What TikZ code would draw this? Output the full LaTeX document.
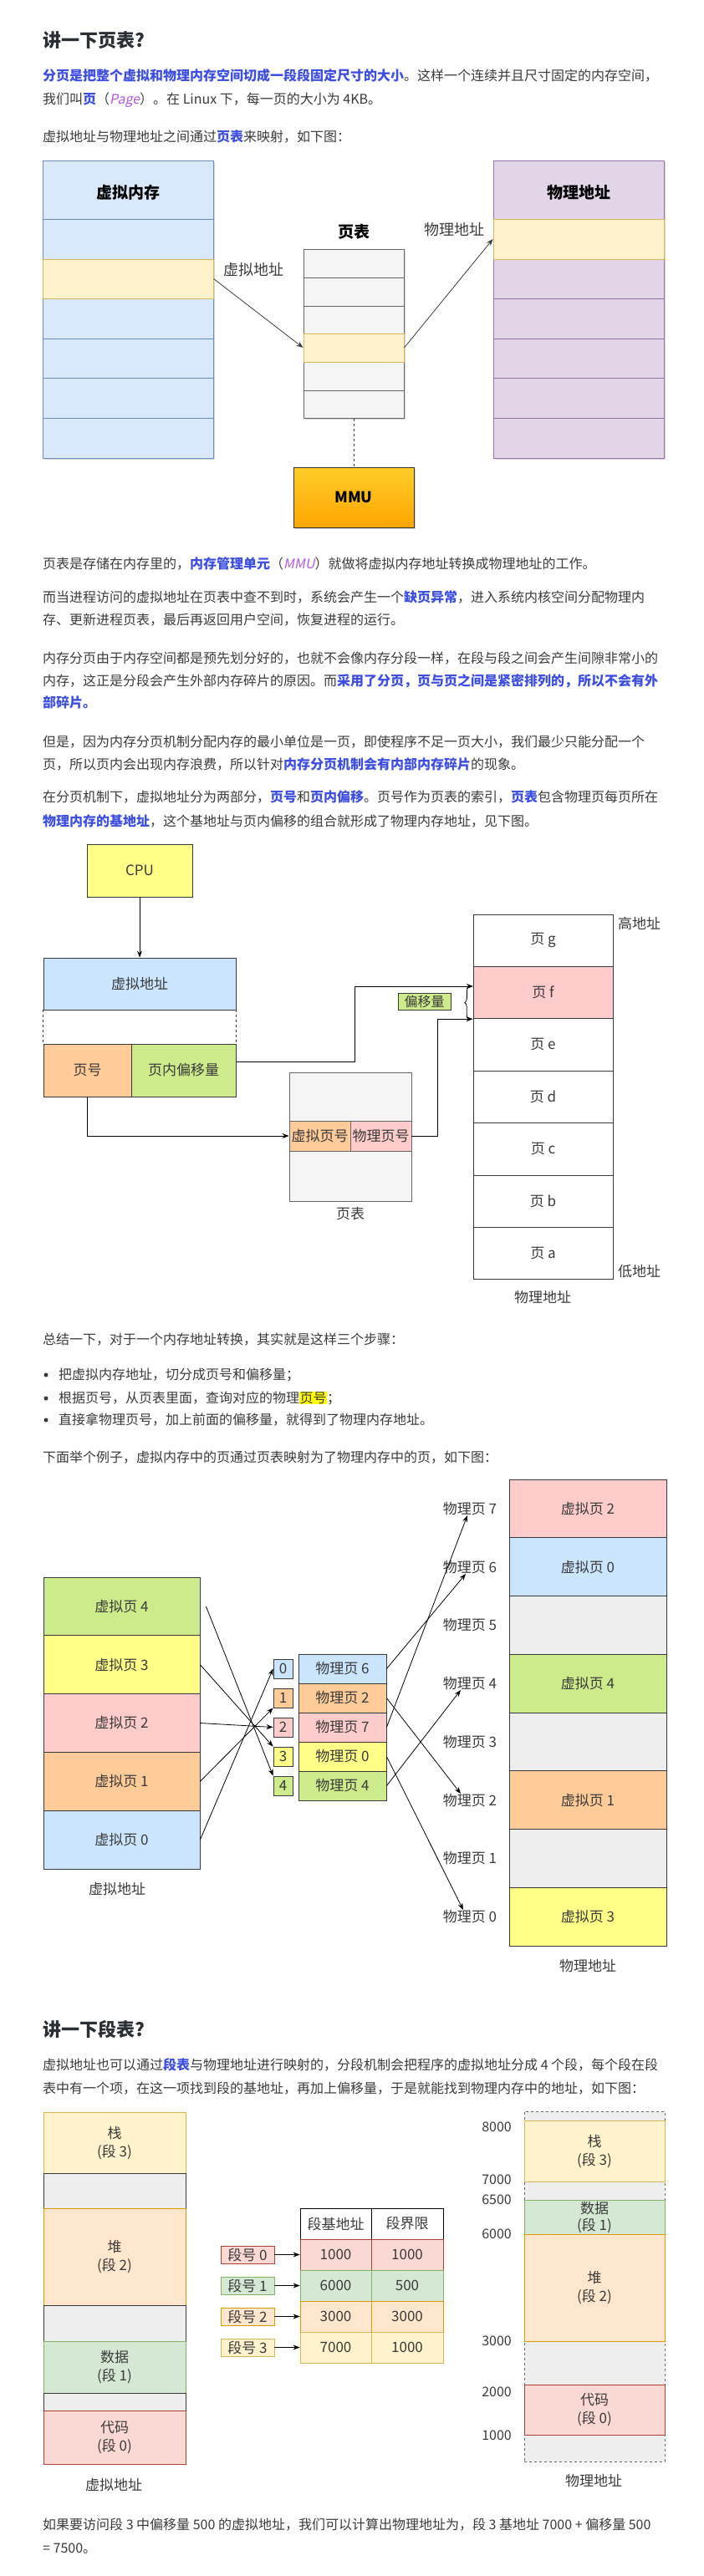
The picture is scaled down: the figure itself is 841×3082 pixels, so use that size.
\documentclass[tikz,border=0pt]{standalone}
\usepackage{fontspec}
\setmainfont{Noto Sans CJK SC}
\newfontfamily\slnt[FakeSlant=0.2]{Noto Sans CJK SC}
\usetikzlibrary{arrows.meta,shadows,decorations.pathreplacing}
\setlength{\fboxsep}{0.5pt}

\definecolor{ink}{HTML}{3A3A3A}
\definecolor{head}{HTML}{2B2F36}
\definecolor{blu}{HTML}{3D4FE0}
\definecolor{purp}{HTML}{B35AE0}
\definecolor{hl}{HTML}{FFFF00}
\definecolor{edge}{HTML}{36393D}
\definecolor{vmfill}{HTML}{DAE8FC}
\definecolor{vmline}{HTML}{6C8EBF}
\definecolor{pmfill}{HTML}{E1D5E7}
\definecolor{pmline}{HTML}{9673A6}
\definecolor{yelfill}{HTML}{FFF2CC}
\definecolor{yelline}{HTML}{D6B656}
\definecolor{ptfill}{HTML}{F5F5F5}
\definecolor{ptline}{HTML}{666666}
\definecolor{mmutop}{HTML}{FFCD28}
\definecolor{mmubot}{HTML}{FFA500}
\definecolor{cyel}{HTML}{FFFF88}
\definecolor{cblue}{HTML}{CCE5FF}
\definecolor{corg}{HTML}{FFCC99}
\definecolor{cgrn}{HTML}{CDEB8B}
\definecolor{cpink}{HTML}{FFCCCC}
\definecolor{cgray}{HTML}{EEEEEE}
\definecolor{sred}{HTML}{FAD9D5}
\definecolor{sredl}{HTML}{AE4132}
\definecolor{sorg}{HTML}{FFE6CC}
\definecolor{sorgl}{HTML}{D79B00}
\definecolor{sgrn}{HTML}{D5E8D4}
\definecolor{sgrnl}{HTML}{82B366}

\begin{document}
\begin{tikzpicture}[x=1pt,y=-1pt,inner sep=0pt,minimum size=0mm,
  txt/.style={anchor=base west,text=ink,font=\fontsize{16}{20}\selectfont},
  hd/.style={anchor=base west,text=head,font=\fontsize{22}{26}\selectfont\bfseries},
  lbl/.style={text=ink,font=\fontsize{17}{21}\selectfont},
  big/.style={text=ink,font=\fontsize{18}{22}\selectfont},
  bigb/.style={text=black,font=\fontsize{19}{22}\selectfont\bfseries},
  cell/.style={draw=edge,line width=0.8pt,lbl},
  sk/.style={line width=1pt,drop shadow={opacity=0.3,shadow xshift=2pt,shadow yshift=-2pt}},
  arr/.style={-{Stealth[length=8pt,width=6pt]},line width=0.8pt,black},
  seg/.style={draw,line width=0.8pt,text=ink,font=\fontsize{17}{22}\selectfont,align=center,minimum width=170},
  snum/.style={draw,line width=0.8pt,lbl,minimum width=64,minimum height=21}]

\fill[white] (0,0) rectangle (841,3082);
\useasboundingbox (0,0) rectangle (841,3082);

\node[hd] (t1) at (51,56) {讲一下页表?};

\node[txt] (p1a) at (51,96) {\textcolor{blu}{\bfseries 分页是把整个虚拟和物理内存空间切成一段段固定尺寸的大小}。这样一个连续并且尺寸固定的内存空间，};
\node[txt] (p1b) at (51,124) {我们叫\textcolor{blu}{\bfseries 页}（\textcolor{purp}{\slnt Page}）。在 Linux 下，每一页的大小为 4KB。};
\node[txt] (p2) at (51,169) {虚拟地址与物理地址之间通过\textcolor{blu}{\bfseries 页表}来映射，如下图：};

\node[sk,draw=vmline,fill=vmfill,minimum width=204,minimum height=356] (vm) at (153,370) {};
\node[draw=yelline,fill=yelfill,line width=1pt,minimum width=204,minimum height=47] (vy) at (153,333.5) {};
\draw[vmline,line width=1pt] (51,262) -- (255,262);
\draw[vmline,line width=1pt] (51,405) -- (255,405);
\draw[vmline,line width=1pt] (51,452) -- (255,452);
\draw[vmline,line width=1pt] (51,500) -- (255,500);
\node[bigb] (vmt) at (153,230) {虚拟内存};

\node[sk,draw=ptline,fill=ptfill,minimum width=120,minimum height=202] (pt) at (423,399) {};
\node[draw=yelline,fill=yelfill,line width=1pt,minimum width=120,minimum height=34] (py) at (423,416) {};
\draw[ptline,line width=1pt] (363,332) -- (483,332);
\draw[ptline,line width=1pt] (363,366) -- (483,366);
\draw[ptline,line width=1pt] (363,467) -- (483,467);
\node[bigb] (ptt) at (423,277) {页表};

\node[sk,draw=pmline,fill=pmfill,minimum width=204,minimum height=356] (pm) at (692,370) {};
\node[draw=yelline,fill=yelfill,line width=1pt,minimum width=204,minimum height=48] (my) at (692,286) {};
\draw[pmline,line width=1pt] (590,357) -- (794,357);
\draw[pmline,line width=1pt] (590,405) -- (794,405);
\draw[pmline,line width=1pt] (590,452) -- (794,452);
\draw[pmline,line width=1pt] (590,500) -- (794,500);
\node[bigb] (pmt) at (692,230) {物理地址};

\node[big] (va) at (303,323) {虚拟地址};
\node[big] (pa) at (543,275) {物理地址};
\node[sk,draw=black!80,top color=mmutop,bottom color=mmubot,minimum width=144,minimum height=72,font=\fontsize{18}{22}\selectfont\bfseries] (mmu) at (423,595) {MMU};

\draw[arr,ink] (vy.east) -- (py.west);
\draw[arr,ink] (py.east) -- (my.west);
\draw[dashed,ink,line width=0.8pt] (pt.south) -- (mmu.north);

\node[txt] (p3) at (51,680) {页表是存储在内存里的，\textcolor{blu}{\bfseries 内存管理单元}（\textcolor{purp}{\slnt MMU}）就做将虚拟内存地址转换成物理地址的工作。};
\node[txt] (p4a) at (51,720) {而当进程访问的虚拟地址在页表中查不到时，系统会产生一个\textcolor{blu}{\bfseries 缺页异常}，进入系统内核空间分配物理内};
\node[txt] (p4b) at (51,747) {存、更新进程页表，最后再返回用户空间，恢复进程的运行。};
\node[txt] (p5a) at (51,793) {内存分页由于内存空间都是预先划分好的，也就不会像内存分段一样，在段与段之间会产生间隙非常小的};
\node[txt] (p5b) at (51,820) {内存，这正是分段会产生外部内存碎片的原因。而\textcolor{blu}{\bfseries 采用了分页，页与页之间是紧密排列的，所以不会有外}};
\node[txt] (p5c) at (51,846) {\textcolor{blu}{\bfseries 部碎片。}};
\node[txt] (p6a) at (51,893) {但是，因为内存分页机制分配内存的最小单位是一页，即使程序不足一页大小，我们最少只能分配一个};
\node[txt] (p6b) at (51,920) {页，所以页内会出现内存浪费，所以针对\textcolor{blu}{\bfseries 内存分页机制会有内部内存碎片}的现象。};
\node[txt] (p7a) at (51,959) {在分页机制下，虚拟地址分为两部分，\textcolor{blu}{\bfseries 页号}和\textcolor{blu}{\bfseries 页内偏移}。页号作为页表的索引，\textcolor{blu}{\bfseries 页表}包含物理页每页所在};
\node[txt] (p7b) at (51,988) {\textcolor{blu}{\bfseries 物理内存的基地址}，这个基地址与页内偏移的组合就形成了物理内存地址，见下图。};

\node[cell,fill=cyel,minimum width=126,minimum height=63] (cpu) at (167,1041.5) {CPU};
\node[cell,fill=cblue,minimum width=230,minimum height=62] (vaddr) at (167,1177) {虚拟地址};
\node[cell,fill=corg,minimum width=105,minimum height=63] (pno) at (104.5,1280.5) {页号};
\node[cell,fill=cgrn,minimum width=125,minimum height=63] (pofs) at (219.5,1280.5) {页内偏移量};
\draw[arr] (cpu) -- (vaddr);
\draw[dashed,edge,line width=0.8pt] (vaddr.south west) -- (pno.north west);
\draw[dashed,edge,line width=0.8pt] (vaddr.south east) -- (pofs.north east);

\node[draw=ptline,fill=ptfill,line width=0.8pt,minimum width=146,minimum height=154] (pt2) at (419,1360) {};
\node[cell,draw=ptline,fill=corg,minimum width=73,minimum height=36] (vpn) at (382.5,1359) {虚拟页号};
\node[cell,draw=ptline,fill=cpink,minimum width=73,minimum height=36] (ppn) at (455.5,1359) {物理页号};
\node[lbl] (pt2t) at (419,1452) {页表};

\node[cell,fill=white,minimum width=167,minimum height=62.4] (pg) at (649.5,1125.2) {页 g};
\node[cell,fill=cpink,minimum width=167,minimum height=62.4] (pf) at (649.5,1187.6) {页 f};
\node[cell,fill=white,minimum width=167,minimum height=62.4] (pe) at (649.5,1250) {页 e};
\node[cell,fill=white,minimum width=167,minimum height=62.4] (pd) at (649.5,1312.4) {页 d};
\node[cell,fill=white,minimum width=167,minimum height=62.4] (pc) at (649.5,1374.8) {页 c};
\node[cell,fill=white,minimum width=167,minimum height=62.4] (pb) at (649.5,1437.2) {页 b};
\node[cell,fill=white,minimum width=167,minimum height=62.4] (pa2) at (649.5,1499.6) {页 a};
\node[lbl,anchor=west] (hi) at (739,1105) {高地址};
\node[lbl,anchor=west] (lo) at (739,1521) {低地址};
\node[lbl] (pmt2) at (649,1552) {物理地址};

\coordinate (ofs) at (566,1180);
\draw[arr] ([yshift=10pt]pofs.east) -- ++(142,0) |- (ofs);
\draw[arr] (ppn.east) -- ++(31,0) |- (pf.south west);
\draw[arr] (pno.south) |- (vpn.west);
\draw[decorate,decoration={brace,amplitude=5pt},line width=0.8pt] ([xshift=-5pt]pf.south west) -- ([xshift=-5pt]ofs);
\node[cell,fill=cgrn,minimum width=63,minimum height=20,font=\fontsize{16}{20}\selectfont] (ofl) at (507.5,1198) {偏移量};

\node[txt] (s0) at (51,1608) {总结一下，对于一个内存地址转换，其实就是这样三个步骤：};
\fill[ink] (55,1645) circle (2.5);
\fill[ink] (55,1673) circle (2.5);
\fill[ink] (55,1699) circle (2.5);
\node[txt] (s1) at (70,1650) {把虚拟内存地址，切分成页号和偏移量；};
\node[txt] (s2) at (70,1678) {根据页号，从页表里面，查询对应的物理\colorbox{hl}{页号}；};
\node[txt] (s3) at (70,1704) {直接拿物理页号，加上前面的偏移量，就得到了物理内存地址。};
\node[txt] (s4) at (51,1749) {下面举个例子，虚拟内存中的页通过页表映射为了物理内存中的页，如下图：};

\node[cell,fill=cgrn,minimum width=187,minimum height=69.8] (vp4) at (145.5,1921.9) {虚拟页 4};
\node[cell,fill=cyel,minimum width=187,minimum height=69.8] (vp3) at (145.5,1991.7) {虚拟页 3};
\node[cell,fill=cpink,minimum width=187,minimum height=69.8] (vp2) at (145.5,2061.5) {虚拟页 2};
\node[cell,fill=corg,minimum width=187,minimum height=69.8] (vp1) at (145.5,2131.3) {虚拟页 1};
\node[cell,fill=cblue,minimum width=187,minimum height=69.8] (vp0) at (145.5,2201.1) {虚拟页 0};
\node[lbl] (vat) at (140,2260) {虚拟地址};

\node[cell,fill=cblue,minimum width=23,minimum height=23] (i0) at (338.5,1996.5) {0};
\node[cell,fill=corg,minimum width=23,minimum height=23] (i1) at (338.5,2031.5) {1};
\node[cell,fill=cpink,minimum width=23,minimum height=23] (i2) at (338.5,2066.5) {2};
\node[cell,fill=cyel,minimum width=23,minimum height=23] (i3) at (338.5,2101.5) {3};
\node[cell,fill=cgrn,minimum width=23,minimum height=23] (i4) at (338.5,2136.5) {4};

\node[cell,fill=cblue,minimum width=105,minimum height=35] (e0) at (409.5,1996.5) {物理页 6};
\node[cell,fill=corg,minimum width=105,minimum height=35] (e1) at (409.5,2031.5) {物理页 2};
\node[cell,fill=cpink,minimum width=105,minimum height=35] (e2) at (409.5,2066.5) {物理页 7};
\node[cell,fill=cyel,minimum width=105,minimum height=35] (e3) at (409.5,2101.5) {物理页 0};
\node[cell,fill=cgrn,minimum width=105,minimum height=35] (e4) at (409.5,2136.5) {物理页 4};

\node[cell,fill=cpink,minimum width=188,minimum height=69.75] (r7) at (703,1804.9) {虚拟页 2};
\node[cell,fill=cblue,minimum width=188,minimum height=69.75] (r6) at (703,1874.6) {虚拟页 0};
\node[cell,fill=cgray,minimum width=188,minimum height=69.75] (r5) at (703,1944.4) {};
\node[cell,fill=cgrn,minimum width=188,minimum height=69.75] (r4) at (703,2014.1) {虚拟页 4};
\node[cell,fill=cgray,minimum width=188,minimum height=69.75] (r3) at (703,2083.9) {};
\node[cell,fill=corg,minimum width=188,minimum height=69.75] (r2) at (703,2153.6) {虚拟页 1};
\node[cell,fill=cgray,minimum width=188,minimum height=69.75] (r1) at (703,2223.4) {};
\node[cell,fill=cyel,minimum width=188,minimum height=69.75] (r0) at (703,2293.1) {虚拟页 3};
\node[lbl] (pat) at (703,2352) {物理地址};

\node[lbl] (pl7) at (562,1805) {物理页 7};
\node[lbl] (pl6) at (562,1875) {物理页 6};
\node[lbl] (pl5) at (562,1944) {物理页 5};
\node[lbl] (pl4) at (562,2014) {物理页 4};
\node[lbl] (pl3) at (562,2084) {物理页 3};
\node[lbl] (pl2) at (562,2154) {物理页 2};
\node[lbl] (pl1) at (562,2223) {物理页 1};
\node[lbl] (pl0) at (562,2293) {物理页 0};

\draw[arr] ([xshift=7pt]vp4.east) -- (i4.north west);
\draw[arr] (vp3.east) -- (i3.north west);
\draw[arr] (vp2.east) -- (i2.west);
\draw[arr] (vp1.east) -- (i1.south west);
\draw[arr] (vp0.east) -- (i0.west);

\draw[arr] (e0.east) -- ([xshift=-5pt]pl6.south);
\draw[arr] (e1.east) -- ([xshift=-11pt]pl2.north);
\draw[arr] (e2.east) -- ([xshift=-3pt]pl7.south);
\draw[arr] (e3.east) -- ([xshift=-8pt]pl0.north);
\draw[arr] (e4.east) -- ([xshift=-11pt]pl4.south);

\node[hd] (t2) at (51,2436) {讲一下段表?};
\node[txt] (q1a) at (51,2476) {虚拟地址也可以通过\textcolor{blu}{\bfseries 段表}与物理地址进行映射的，分段机制会把程序的虚拟地址分成 4 个段，每个段在段};
\node[txt] (q1b) at (51,2504) {表中有一个项，在这一项找到段的基地址，再加上偏移量，于是就能找到物理内存中的地址，如下图：};

\node[seg,draw=yelline,fill=yelfill,minimum height=73] (vs3) at (137,2563.5) {栈\\(段 3)};
\node[seg,draw=edge,fill=cgray,minimum height=42] (vg1) at (137,2621) {};
\node[seg,draw=sorgl,fill=sorg,minimum height=116] (vs2) at (137,2700) {堆\\(段 2)};
\node[seg,draw=edge,fill=cgray,minimum height=43] (vg2) at (137,2779.5) {};
\node[seg,draw=sgrnl,fill=sgrn,minimum height=62] (vs1) at (137,2832) {数据\\(段 1)};
\node[seg,draw=edge,fill=cgray,minimum height=21] (vg3) at (137,2873.5) {};
\node[seg,draw=sredl,fill=sred,minimum height=64] (vs0) at (137,2916) {代码\\(段 0)};
\node[lbl] (vst) at (136,2973) {虚拟地址};

\node[draw=ptline,dashed,fill=cgray,line width=0.8pt,minimum width=168,minimum height=419] (pbg) at (711,2735.5) {};
\node[seg,draw=yelline,fill=yelfill,minimum width=168,minimum height=73] (ps3) at (711,2573.5) {栈\\(段 3)};
\node[seg,draw=sgrnl,fill=sgrn,minimum width=168,minimum height=41,font=\fontsize{17}{20}\selectfont] (ps1) at (711,2652.5) {数据\\(段 1)};
\node[seg,draw=sorgl,fill=sorg,minimum width=168,minimum height=128] (ps2) at (711,2737) {堆\\(段 2)};
\node[seg,draw=sredl,fill=sred,minimum width=168,minimum height=60] (ps0) at (711,2883) {代码\\(段 0)};
\node[lbl] (pst) at (710,2968) {物理地址};

\node[lbl,anchor=east,font=\fontsize{16}{20}\selectfont] (a8) at (612,2545) {8000};
\node[lbl,anchor=east,font=\fontsize{16}{20}\selectfont] (a7) at (612,2608) {7000};
\node[lbl,anchor=east,font=\fontsize{16}{20}\selectfont] (a65) at (612,2632) {6500};
\node[lbl,anchor=east,font=\fontsize{16}{20}\selectfont] (a6) at (612,2673) {6000};
\node[lbl,anchor=east,font=\fontsize{16}{20}\selectfont] (a3) at (612,2801) {3000};
\node[lbl,anchor=east,font=\fontsize{16}{20}\selectfont] (a2) at (612,2862) {2000};
\node[lbl,anchor=east,font=\fontsize{16}{20}\selectfont] (a1) at (612,2914) {1000};

\node[cell,draw=black,fill=white,minimum width=85,minimum height=37] (hb) at (401.5,2660.5) {段基地址};
\node[cell,draw=black,fill=white,minimum width=86,minimum height=37] (hl) at (487,2660.5) {段界限};
\node[cell,draw=sredl,fill=sred,minimum width=85,minimum height=37] (b0) at (401.5,2697.5) {1000};
\node[cell,draw=sredl,fill=sred,minimum width=86,minimum height=37] (l0) at (487,2697.5) {1000};
\node[cell,draw=sgrnl,fill=sgrn,minimum width=85,minimum height=37] (b1) at (401.5,2734.5) {6000};
\node[cell,draw=sgrnl,fill=sgrn,minimum width=86,minimum height=37] (l1) at (487,2734.5) {500};
\node[cell,draw=sorgl,fill=sorg,minimum width=85,minimum height=37] (b2) at (401.5,2771.5) {3000};
\node[cell,draw=sorgl,fill=sorg,minimum width=86,minimum height=37] (l2) at (487,2771.5) {3000};
\node[cell,draw=yelline,fill=yelfill,minimum width=85,minimum height=37] (b3) at (401.5,2808.5) {7000};
\node[cell,draw=yelline,fill=yelfill,minimum width=86,minimum height=37] (l3) at (487,2808.5) {1000};

\node[snum,draw=sredl,fill=sred] (sn0) at (296,2697.5) {段号 0};
\node[snum,draw=sgrnl,fill=sgrn] (sn1) at (296,2734.5) {段号 1};
\node[snum,draw=sorgl,fill=sorg] (sn2) at (296,2771.5) {段号 2};
\node[snum,draw=yelline,fill=yelfill] (sn3) at (296,2808.5) {段号 3};
\draw[arr] (sn0.east) -- (b0.west);
\draw[arr] (sn1.east) -- (b1.west);
\draw[arr] (sn2.east) -- (b2.west);
\draw[arr] (sn3.east) -- (b3.west);

\node[txt] (q2a) at (51,3026) {如果要访问段 3 中偏移量 500 的虚拟地址，我们可以计算出物理地址为，段 3 基地址 7000 + 偏移量 500};
\node[txt] (q2b) at (51,3054) {= 7500。};

\end{tikzpicture}
\end{document}
